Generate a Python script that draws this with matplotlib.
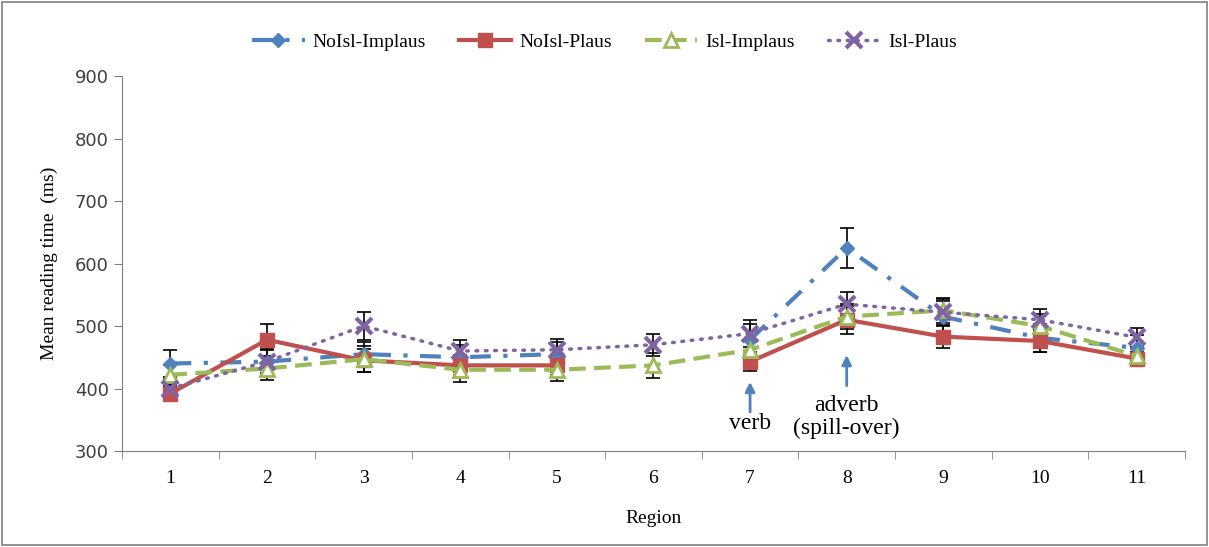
import numpy as np
import matplotlib
matplotlib.use("Agg")
import matplotlib.pyplot as plt

regions = [1, 2, 3, 4, 5, 6, 7, 8, 9, 10, 11]
nan = np.nan

# mean reading times (ms)
noisl_implaus = [440, 443, 455, 450, 455, nan, 478, 625, 515, 481, 465]
noisl_plaus = [392, 478, 445, 437, 437, nan, 443, 510, 483, 476, 448]
isl_implaus = [422, 432, 447, 430, 430, 437, 462, 515, 525, 500, 452]
isl_plaus = [400, 443, 500, 460, 462, 470, 488, 535, 522, 510, 482]

# standard errors
noisl_implaus_err = [22, 20, 20, 20, 20, nan, 25, 32, 25, 22, 20]
noisl_plaus_err = [12, 26, 18, 16, 16, nan, 15, 22, 18, 18, 10]
isl_implaus_err = [15, 18, 21, 20, 18, 20, 18, 20, 20, 20, 12]
isl_plaus_err = [15, 18, 23, 18, 18, 18, 22, 20, 22, 18, 15]

serif = "Liberation Serif"

fig = plt.figure(figsize=(12.09, 5.47), dpi=100)
ax = fig.add_axes([0.101, 0.1755, 0.879, 0.6855])

x = np.array(regions)

def draw(y, err, **kw):
    y = np.array(y, dtype=float)
    e = np.array(err, dtype=float)
    ax.errorbar(x, y, yerr=e, fmt="none", ecolor="black", elinewidth=1.2,
                capsize=5, capthick=1.2, zorder=2)
    return ax.plot(x, y, **kw)[0]

h1 = draw(noisl_implaus, noisl_implaus_err, color="#4F81BD", lw=3,
          linestyle=(0, (5, 3, 1, 3)), marker="D", ms=7, label="NoIsl-Implaus", zorder=3)
h2 = draw(noisl_plaus, noisl_plaus_err, color="#C0504D", lw=3,
          linestyle="-", marker="s", ms=9.5, label="NoIsl-Plaus", zorder=4)
h3 = draw(isl_implaus, isl_implaus_err, color="#9BBB59", lw=3,
          linestyle=(0, (4, 2)), marker="^", ms=10, mfc="white", mec="#9BBB59",
          mew=2, label="Isl-Implaus", zorder=5)
h4 = draw(isl_plaus, isl_plaus_err, color="#8064A2", lw=2.5,
          linestyle=(0, (0.5, 2.2)), dash_capstyle="round", marker="x", ms=11,
          mew=3, label="Isl-Plaus", zorder=6)

ax.set_xlim(0.5, 11.5)
ax.set_ylim(300, 900)
ax.set_yticks(range(300, 901, 100))
ax.set_xticks(x)
ax.set_xticks(np.arange(0.5, 11.6, 1), minor=True)
ax.tick_params(axis="x", which="major", length=0, pad=14)
ax.tick_params(axis="x", which="minor", length=6, direction="out", color="#808080")
ax.tick_params(axis="y", length=6, direction="out", color="#808080", labelcolor="#404040")
for lab in ax.get_xticklabels():
    lab.set_fontfamily(serif)
    lab.set_fontsize(14)
for lab in ax.get_yticklabels():
    lab.set_fontfamily("DejaVu Sans")
    lab.set_fontsize(13)

for s in ["top", "right"]:
    ax.spines[s].set_visible(False)
for s in ["left", "bottom"]:
    ax.spines[s].set_color("#808080")

ax.set_xlabel("Region", fontfamily=serif, fontsize=14, labelpad=16)
ax.set_ylabel("Mean reading time  (ms)", fontfamily=serif, fontsize=14, labelpad=12)

# annotations
ax.annotate("", xy=(7, 415), xytext=(7, 358),
            arrowprops=dict(arrowstyle="-|>", color="#4F81BD", lw=2, mutation_scale=14))
ax.text(7, 344, "verb", ha="center", va="center", fontfamily=serif, fontsize=17)
ax.annotate("", xy=(8, 458), xytext=(8, 400),
            arrowprops=dict(arrowstyle="-|>", color="#4F81BD", lw=2, mutation_scale=14))
ax.text(8, 354, "adverb\n(spill-over)", ha="center", va="center",
        fontfamily=serif, fontsize=17, linespacing=1.1)

fig.legend(handles=[h1, h2, h3, h4], loc="center", bbox_to_anchor=(0.5, 0.923),
           ncol=4, frameon=False, prop={"family": serif, "size": 14},
           handlelength=2.7, columnspacing=1.7, handletextpad=0.4)

fig.patches.append(plt.Rectangle((0.002, 0.003), 0.996, 0.994, transform=fig.transFigure,
                                 fill=False, edgecolor="#808080", lw=1.2))

fig.savefig("out.png", dpi=100)
